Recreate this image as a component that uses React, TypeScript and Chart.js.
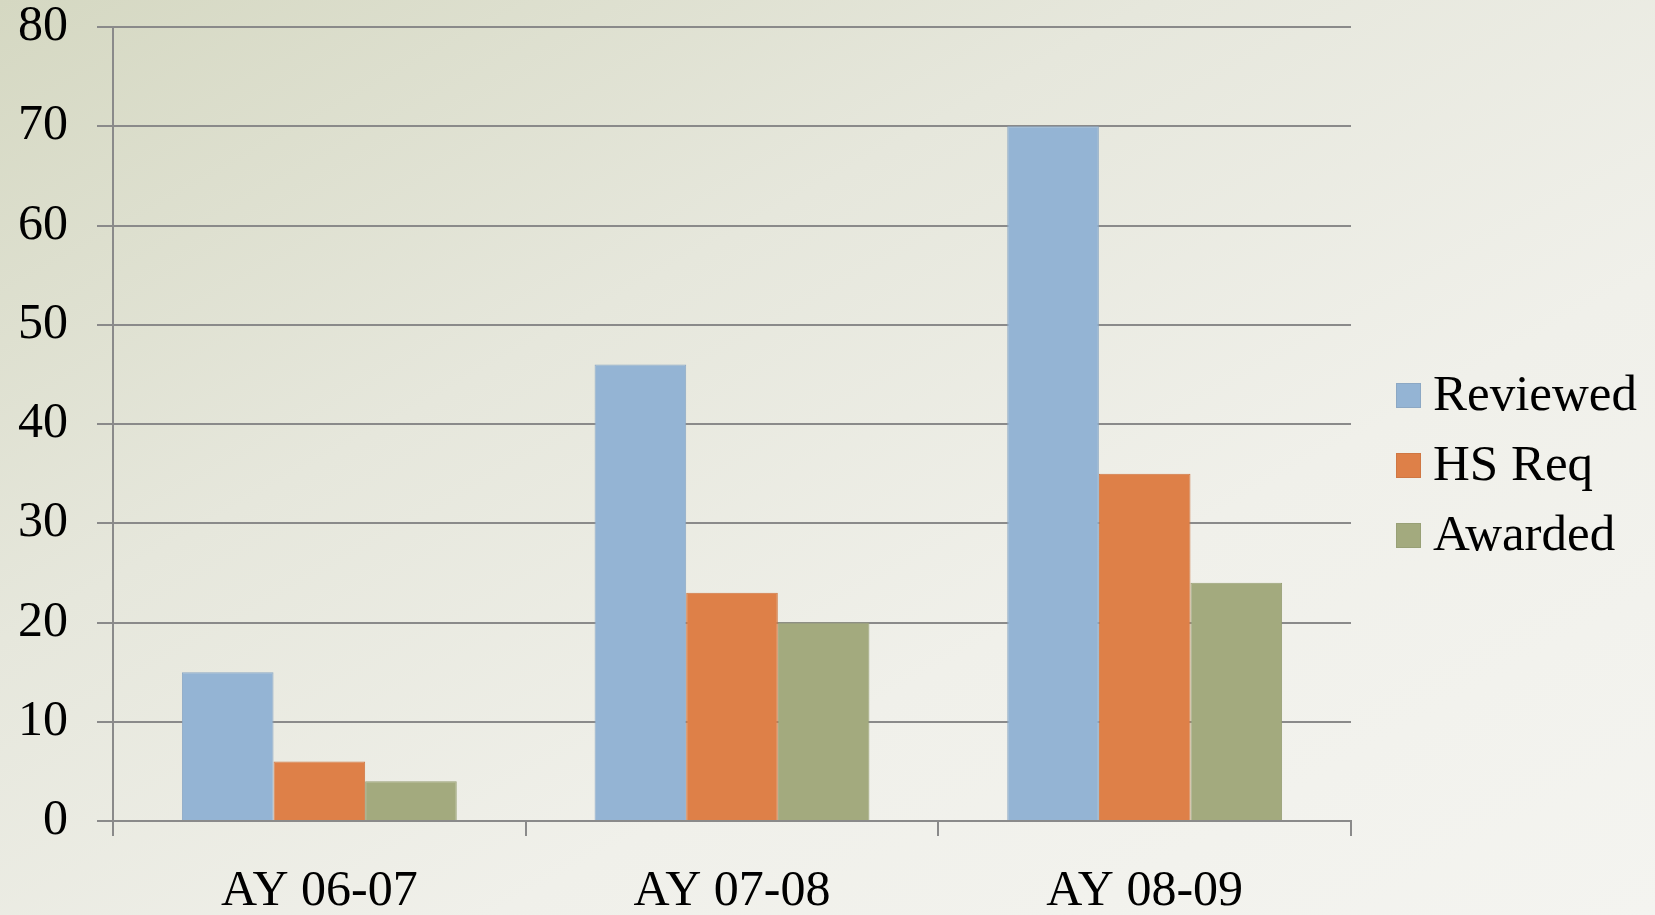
import React, { useEffect, useRef } from "react";
import { Chart, registerables } from "chart.js";

Chart.register(...registerables);

const categories = ["AY 06-07", "AY 07-08", "AY 08-09"];
const seriesNames = ["Reviewed", "HS Req", "Awarded"];
const reviewed = [15, 46, 70];
const hsReq = [6, 23, 35];
const awarded = [4, 20, 24];
const yTicks = [0, 10, 20, 30, 40, 50, 60, 70, 80];

const colors = ["#94b4d4", "#de8048", "#a3aa7e"];
const borders = ["#8ca8c4", "#cf7743", "#98a076"];

const FONT = "'Liberation Serif', 'Times New Roman', serif";

const legendPlugin = {
  id: "customLegend",
  afterDraw(chart: any) {
    const ctx = chart.ctx;
    ctx.save();
    chart.data.datasets.forEach((ds: any, i: number) => {
      const baseY = 410 + i * 70;
      ctx.fillStyle = ds.backgroundColor;
      ctx.fillRect(1396, baseY - 27, 25, 25);
      ctx.strokeStyle = ds.borderColor;
      ctx.lineWidth = 1;
      ctx.strokeRect(1396.5, baseY - 26.5, 24, 24);
      ctx.fillStyle = "#000";
      ctx.font = `51px ${FONT}`;
      ctx.textBaseline = "alphabetic";
      ctx.textAlign = "left";
      ctx.fillText(ds.label, 1433, baseY);
    });
    ctx.restore();
  },
};

export default function App() {
  const ref = useRef<HTMLCanvasElement | null>(null);
  useEffect(() => {
    if (!ref.current) return;
    const data = [reviewed, hsReq, awarded];
    const chart = new Chart(ref.current, {
      type: "bar",
      data: {
        labels: categories,
        datasets: seriesNames.map((name, i) => ({
          label: name,
          data: data[i],
          backgroundColor: colors[i],
          borderColor: borders[i],
          borderWidth: 1,
          categoryPercentage: 0.666,
          barPercentage: 1.0,
        })),
      },
      options: {
        responsive: false,
        animation: false,
        devicePixelRatio: 1,
        layout: { padding: { left: 0, top: 27, right: 304, bottom: 0 } },
        plugins: {
          legend: { display: false },
          tooltip: { enabled: false },
        },
        scales: {
          x: {
            grid: {
              display: true,
              drawOnChartArea: false,
              drawTicks: true,
              tickLength: 15,
              color: "#8a8a8a",
              lineWidth: 2,
              offset: true,
            },
            border: { display: true, color: "#8a8a8a", width: 2 },
            ticks: {
              color: "#000",
              font: { family: FONT, size: 50, lineHeight: 1.2 },
              padding: 26,
              maxRotation: 0,
            },
            afterFit: (scale: any) => {
              scale.height = 94;
              scale.paddingLeft = 0;
              scale.paddingRight = 0;
            },
          },
          y: {
            min: 0,
            max: 80,
            afterBuildTicks: (scale: any) => {
              scale.ticks = yTicks.map((v) => ({ value: v }));
            },
            grid: {
              color: "#8a8a8a",
              lineWidth: 2,
              drawTicks: true,
              tickLength: 16,
            },
            border: { display: true, color: "#8a8a8a", width: 2 },
            ticks: {
              color: "#000",
              font: { family: FONT, size: 50, lineHeight: 1 },
              padding: 29,
            },
            afterFit: (scale: any) => {
              scale.width = 113;
              scale.paddingTop = 0;
              scale.paddingBottom = 0;
            },
          },
        },
      },
      plugins: [legendPlugin],
    });
    return () => chart.destroy();
  }, []);

  return (
    <div
      style={{
        position: "fixed",
        left: 0,
        top: 0,
        width: 1655,
        height: 915,
        background:
          "linear-gradient(to bottom right, #d5d8c2 0%, #e6e7dc 35%, #f0f0ea 65%, #f4f4f0 100%)",
      }}
    >
      <canvas ref={ref} width={1655} height={915} style={{ display: "block" }} />
    </div>
  );
}
